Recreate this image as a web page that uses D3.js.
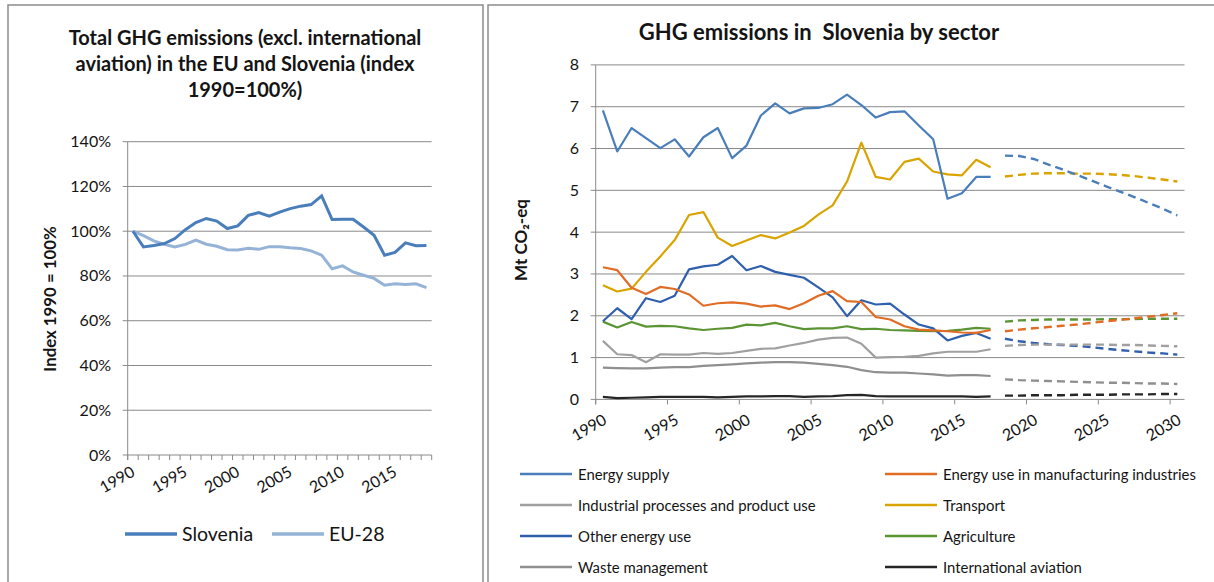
<!DOCTYPE html>
<html>
<head>
<meta charset="utf-8">
<script src="https://cdn.jsdelivr.net/npm/d3@7"></script>
<style>
  body { margin: 0; background: #fff; }
  text { font-family: Lato, "Noto Sans", sans-serif; fill: #141414; }
</style>
</head>
<body>
<div class="canvas"></div>
<script>
// left chart data
const yearsIdx = d3.range(1990, 2019)
const slovenia = [100, 93.0, 93.6, 94.5, 96.7, 100.7, 103.9, 105.7, 104.5, 101.2, 102.4, 107.1, 108.3, 106.7, 108.5,
  110.1, 111.2, 111.9, 115.8, 105.2, 105.3, 105.3, 101.9, 98.2, 89.3, 90.5, 94.8, 93.5, 93.6]
const eu28 = [100, 98.0, 95.7, 94.1, 93.0, 94.1, 96.0, 94.2, 93.3, 91.7, 91.6, 92.4, 91.9, 93.1, 93.1,
  92.6, 92.3, 91.2, 89.3, 83.2, 84.5, 81.8, 80.3, 78.9, 75.9, 76.5, 76.2, 76.5, 74.8]
const idxTicks = [0, 20, 40, 60, 80, 100, 120, 140]
const idxLabels = ["1990", "1995", "2000", "2005", "2010", "2015"]

// right chart data
const yearsAll = d3.range(1990, 2031)
const yearsHist = d3.range(1990, 2018)
const yearsProj = d3.range(2018, 2031)
const sectorLabels = ["1990", "1995", "2000", "2005", "2010", "2015", "2020", "2025", "2030"]
const sectorTicks = [0, 1, 2, 3, 4, 5, 6, 7, 8]

const energySupply = [6.91, 5.93, 6.49, 6.25, 6.01, 6.22, 5.81, 6.27, 6.49, 5.77, 6.07, 6.79, 7.08, 6.84, 6.96,
  6.97, 7.06, 7.29, 7.04, 6.74, 6.87, 6.89, 6.55, 6.22, 4.80, 4.93, 5.32, 5.32]
const energySupplyProj = [5.83, 5.82, 5.75, 5.62, 5.50, 5.37, 5.24, 5.10, 4.97, 4.84, 4.70, 4.56, 4.40]
const manufacturing = [3.16, 3.09, 2.67, 2.52, 2.69, 2.64, 2.51, 2.24, 2.30, 2.32, 2.29, 2.22, 2.25, 2.16, 2.30,
  2.48, 2.59, 2.35, 2.33, 1.97, 1.91, 1.75, 1.67, 1.65, 1.63, 1.60, 1.59, 1.66]
const manufacturingProj = [1.63, 1.67, 1.70, 1.73, 1.76, 1.79, 1.83, 1.87, 1.90, 1.94, 1.98, 2.02, 2.06]
const industrial = [1.40, 1.08, 1.06, 0.89, 1.08, 1.07, 1.07, 1.11, 1.09, 1.11, 1.16, 1.21, 1.22, 1.29, 1.35,
  1.43, 1.47, 1.48, 1.33, 1.00, 1.01, 1.02, 1.04, 1.10, 1.14, 1.14, 1.14, 1.20]
const industrialProj = [1.28, 1.30, 1.31, 1.31, 1.31, 1.31, 1.31, 1.31, 1.30, 1.30, 1.29, 1.28, 1.27]
const transport = [2.73, 2.58, 2.65, 3.05, 3.42, 3.81, 4.41, 4.48, 3.87, 3.67, 3.80, 3.93, 3.85, 3.99, 4.15,
  4.42, 4.64, 5.21, 6.14, 5.32, 5.26, 5.68, 5.76, 5.45, 5.38, 5.36, 5.73, 5.55]
const transportProj = [5.33, 5.37, 5.40, 5.41, 5.41, 5.40, 5.40, 5.39, 5.37, 5.34, 5.30, 5.26, 5.21]
const otherEnergy = [1.87, 2.18, 1.92, 2.42, 2.33, 2.48, 3.11, 3.18, 3.22, 3.43, 3.09, 3.19, 3.05, 2.98, 2.91,
  2.68, 2.44, 1.99, 2.37, 2.27, 2.29, 2.03, 1.79, 1.70, 1.41, 1.52, 1.59, 1.45]
const otherEnergyProj = [1.45, 1.39, 1.35, 1.32, 1.30, 1.28, 1.25, 1.21, 1.18, 1.15, 1.12, 1.10, 1.07]
const agriculture = [1.86, 1.72, 1.85, 1.74, 1.76, 1.75, 1.70, 1.66, 1.69, 1.71, 1.79, 1.77, 1.83, 1.75, 1.68,
  1.70, 1.70, 1.75, 1.68, 1.69, 1.66, 1.65, 1.64, 1.63, 1.64, 1.67, 1.71, 1.69]
const agricultureProj = [1.86, 1.89, 1.90, 1.91, 1.91, 1.91, 1.91, 1.92, 1.92, 1.92, 1.93, 1.93, 1.93]
const waste = [0.76, 0.75, 0.74, 0.74, 0.76, 0.77, 0.77, 0.80, 0.82, 0.84, 0.86, 0.88, 0.89, 0.89, 0.88,
  0.85, 0.82, 0.78, 0.70, 0.65, 0.64, 0.64, 0.62, 0.60, 0.57, 0.58, 0.58, 0.56]
const wasteProj = [0.48, 0.46, 0.45, 0.44, 0.43, 0.42, 0.41, 0.40, 0.40, 0.39, 0.38, 0.38, 0.37]
const aviation = [0.06, 0.03, 0.04, 0.05, 0.06, 0.06, 0.06, 0.06, 0.05, 0.06, 0.07, 0.07, 0.08, 0.08, 0.06,
  0.07, 0.08, 0.10, 0.11, 0.08, 0.07, 0.07, 0.07, 0.07, 0.07, 0.07, 0.06, 0.07]
const aviationProj = [0.09, 0.09, 0.10, 0.10, 0.10, 0.11, 0.11, 0.11, 0.12, 0.12, 0.12, 0.13, 0.13]

const sectors = [
  { name: "Energy supply", hist: energySupply, proj: energySupplyProj, color: "#4a7ebb" },
  { name: "Energy use in manufacturing industries", hist: manufacturing, proj: manufacturingProj, color: "#e06c25" },
  { name: "Industrial processes and product use", hist: industrial, proj: industrialProj, color: "#a0a0a0" },
  { name: "Transport", hist: transport, proj: transportProj, color: "#d9a300" },
  { name: "Other energy use", hist: otherEnergy, proj: otherEnergyProj, color: "#2f5fad" },
  { name: "Agriculture", hist: agriculture, proj: agricultureProj, color: "#5a9433" },
  { name: "Waste management", hist: waste, proj: wasteProj, color: "#8f8f8f" },
  { name: "International aviation", hist: aviation, proj: aviationProj, color: "#262626" }
]

const svg = d3.select(".canvas").append("svg")
  .attr("width", 1214)
  .attr("height", 582)

// frames
svg.append("rect")
  .attr("x", 8).attr("y", 5).attr("width", 475).attr("height", 600)
  .attr("fill", "none").attr("stroke", "#8c8c8c").attr("stroke-width", 1.5)
svg.append("rect")
  .attr("x", 488).attr("y", 5).attr("width", 760).attr("height", 600)
  .attr("fill", "none").attr("stroke", "#8c8c8c").attr("stroke-width", 1.5)

// ---------- left chart ----------
const L = svg.append("g")
const lx = d3.scaleBand().domain(yearsIdx).range([127.7, 431.7])
const ly = d3.scaleLinear().domain([0, 140]).range([455, 141.7])
const lc = (d) => lx(d) + lx.bandwidth() / 2

L.selectAll(".grid").data(idxTicks)
  .enter().append("line")
  .attr("x1", 122.7).attr("x2", 431.7)
  .attr("y1", (d) => ly(d)).attr("y2", (d) => ly(d))
  .attr("stroke", "#8a8a8a").attr("stroke-width", 1)

L.append("line")
  .attr("x1", 127.7).attr("x2", 127.7).attr("y1", ly(140)).attr("y2", 460)
  .attr("stroke", "#8a8a8a")

L.selectAll(".xt").data(d3.range(0, yearsIdx.length + 1))
  .enter().append("line")
  .attr("x1", (d) => 127.7 + d * lx.bandwidth()).attr("x2", (d) => 127.7 + d * lx.bandwidth())
  .attr("y1", 455).attr("y2", 460)
  .attr("stroke", "#8a8a8a")

L.selectAll(".yl").data(idxTicks)
  .enter().append("text")
  .attr("x", 111).attr("y", (d) => ly(d) + 5.5)
  .attr("text-anchor", "end")
  .attr("font-size", 16)
  .text((d) => d + "%")

L.selectAll(".xl").data(idxLabels)
  .enter().append("text")
  .attr("transform", (d) => `translate(${lc(+d) + 3},${475}) rotate(-30)`)
  .attr("text-anchor", "end")
  .attr("font-size", 16)
  .text((d) => d)

const ltitle = ["Total GHG emissions (excl. international", "aviation) in the EU and Slovenia (index", "1990=100%)"]
L.selectAll(".title").data(ltitle)
  .enter().append("text")
  .attr("x", 245).attr("y", (d, i) => 45 + i * 26)
  .attr("text-anchor", "middle")
  .attr("font-size", 20)
  .attr("font-weight", "bold")
  .text((d) => d)

L.append("text")
  .attr("transform", "translate(56,299) rotate(-90)")
  .attr("text-anchor", "middle")
  .attr("font-size", 16.8)
  .attr("font-weight", "bold")
  .text("Index 1990 = 100%")

const lline = d3.line().x((d, i) => lc(yearsIdx[i])).y((d) => ly(d))
L.append("path").datum(eu28)
  .attr("d", lline).attr("fill", "none")
  .attr("stroke", "#95b3d7").attr("stroke-width", 3)
L.append("path").datum(slovenia)
  .attr("d", lline).attr("fill", "none")
  .attr("stroke", "#4a7ebb").attr("stroke-width", 3)

const lleg = [
  { name: "Slovenia", color: "#4a7ebb", x: 125 },
  { name: "EU-28", color: "#95b3d7", x: 272 }
]
L.selectAll(".legl").data(lleg)
  .enter().append("line")
  .attr("x1", (d) => d.x).attr("x2", (d) => d.x + 52)
  .attr("y1", 534).attr("y2", 534)
  .attr("stroke", (d) => d.color).attr("stroke-width", 3.5)
L.selectAll(".legt").data(lleg)
  .enter().append("text")
  .attr("x", (d) => d.x + 57).attr("y", 541)
  .attr("font-size", 19.5)
  .text((d) => d.name)

// ---------- right chart ----------
const R = svg.append("g")
const rx = d3.scaleBand().domain(yearsAll).range([595.7, 1184.5])
const ry = d3.scaleLinear().domain([0, 8]).range([399.4, 64.9])
const rc = (d) => rx(d) + rx.bandwidth() / 2

R.selectAll(".grid").data(sectorTicks)
  .enter().append("line")
  .attr("x1", 590.7).attr("x2", 1184.5)
  .attr("y1", (d) => ry(d)).attr("y2", (d) => ry(d))
  .attr("stroke", "#8a8a8a").attr("stroke-width", 1)

R.append("line")
  .attr("x1", 595.7).attr("x2", 595.7).attr("y1", ry(8)).attr("y2", 404.4)
  .attr("stroke", "#8a8a8a")

R.selectAll(".xt").data(d3.range(0, 9))
  .enter().append("line")
  .attr("x1", (d) => 595.7 + d * 5 * rx.bandwidth()).attr("x2", (d) => 595.7 + d * 5 * rx.bandwidth())
  .attr("y1", 399.4).attr("y2", 404.4)
  .attr("stroke", "#8a8a8a")

R.selectAll(".yl").data(sectorTicks)
  .enter().append("text")
  .attr("x", 579).attr("y", (d) => ry(d) + 5.5)
  .attr("text-anchor", "end")
  .attr("font-size", 16)
  .text((d) => d)

R.selectAll(".xl").data(sectorLabels)
  .enter().append("text")
  .attr("transform", (d) => `translate(${rc(+d) + 5},${423}) rotate(-30)`)
  .attr("text-anchor", "end")
  .attr("font-size", 16)
  .text((d) => d)

R.append("text")
  .attr("x", 819).attr("y", 40)
  .attr("text-anchor", "middle")
  .attr("font-size", 22)
  .attr("font-weight", "bold")
  .style("white-space", "pre")
  .text("GHG emissions in  Slovenia by sector")

R.append("text")
  .attr("transform", "translate(527,240) rotate(-90)")
  .attr("text-anchor", "middle")
  .attr("font-size", 17)
  .attr("font-weight", "bold")
  .text("Mt CO₂-eq")

const hline = d3.line().x((d, i) => rc(yearsHist[i])).y((d) => ry(d))
const pline = d3.line().x((d, i) => rc(yearsProj[i])).y((d) => ry(d))

R.selectAll(".hist").data(sectors.slice().reverse())
  .enter().append("path")
  .attr("d", (d) => hline(d.hist))
  .attr("fill", "none")
  .attr("stroke", (d) => d.color).attr("stroke-width", 2.2)
  .attr("stroke-linejoin", "round")

R.selectAll(".proj").data(sectors.slice().reverse())
  .enter().append("path")
  .attr("d", (d) => pline(d.proj))
  .attr("fill", "none")
  .attr("stroke", (d) => d.color).attr("stroke-width", 2.4)
  .attr("stroke-dasharray", "8,5")

const rleg = R.selectAll(".leg").data(sectors)
  .enter().append("g")
  .attr("transform", (d, i) => `translate(${i % 2 === 0 ? 520 : 885},${474 + Math.floor(i / 2) * 31})`)
rleg.append("line")
  .attr("x1", 0).attr("x2", 52)
  .attr("stroke", (d) => d.color).attr("stroke-width", 2.5)
rleg.append("text")
  .attr("x", 58).attr("y", 5.5)
  .attr("font-size", 14.9)
  .text((d) => d.name)
</script>
</body>
</html>
